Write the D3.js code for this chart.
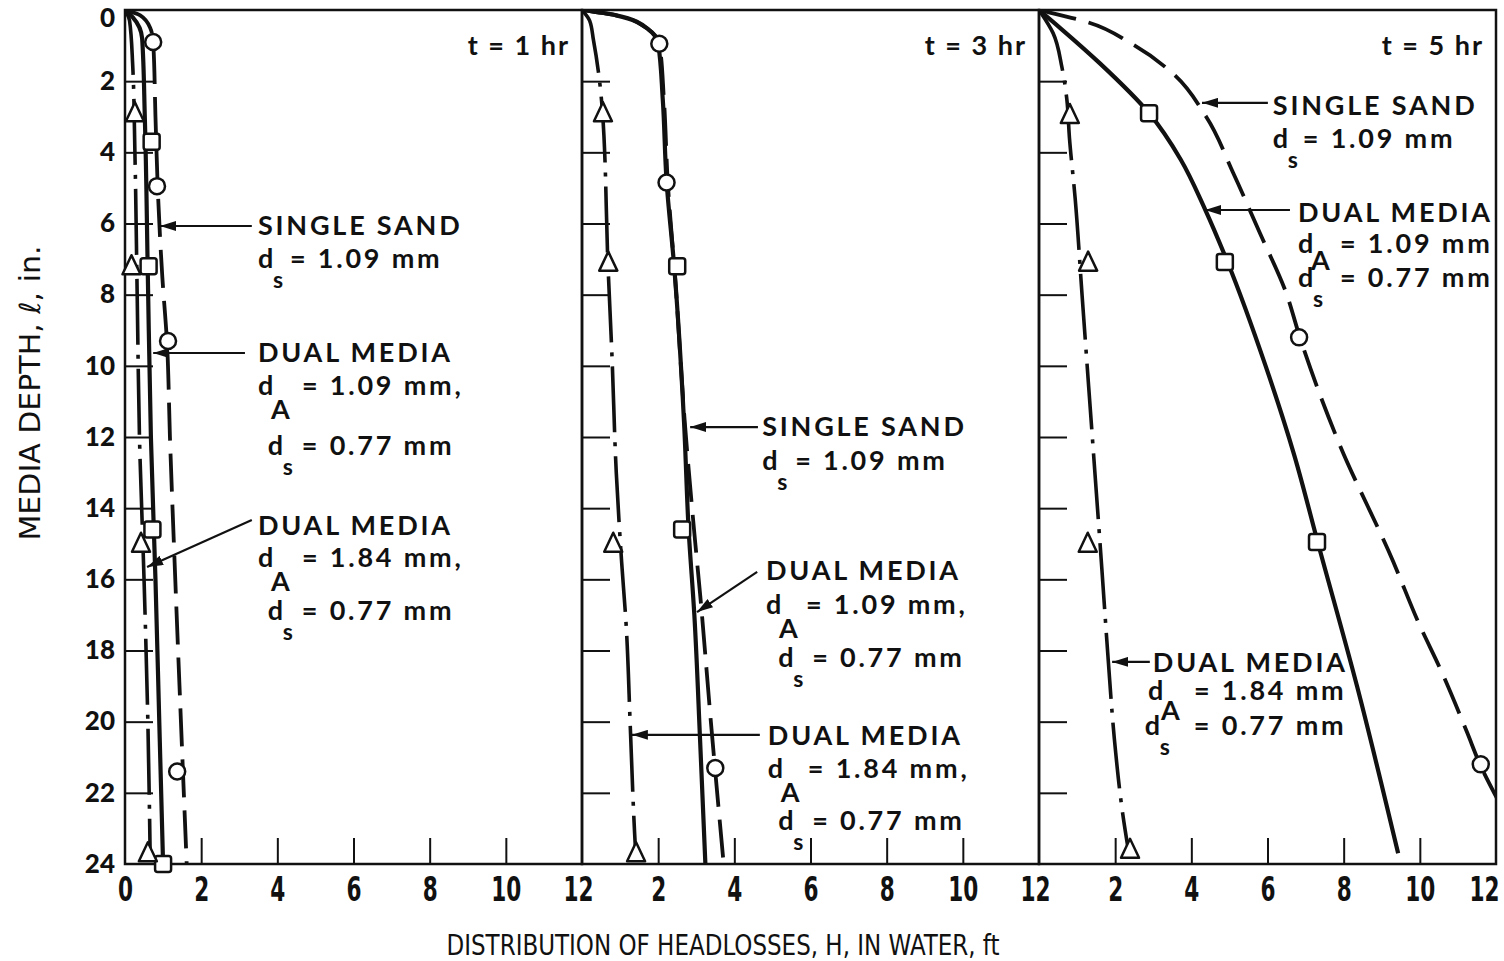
<!DOCTYPE html>
<html>
<head>
<meta charset="utf-8">
<script src="https://cdn.jsdelivr.net/npm/d3@7"></script>
<style>
  html, body { margin: 0; padding: 0; background: #fff; }
  svg { display: block; }
  .note { font-family: Lato, "DejaVu Sans", sans-serif; font-weight: 700; font-size: 27px; letter-spacing: 2.8px; fill: #111; }
  .ytick { font-family: Lato, "DejaVu Sans", sans-serif; font-weight: 900; font-size: 26px; fill: #111; }
  .xtick { font-family: "Liberation Sans Narrow", "DejaVu Sans Condensed", sans-serif; font-weight: 700; font-size: 30px; fill: #111; }
  .title { font-family: "Liberation Sans Narrow", "DejaVu Sans Condensed", sans-serif; font-size: 29px; fill: #111; }
</style>
</head>
<body>
<script>
// Headloss distribution through filter media depth at three filtration times.
// Each series is a list of [depth (in.), headloss H (ft)] pairs.

const panelTimes = ["t = 1 hr", "t = 3 hr", "t = 5 hr"];
const depthTicks = [0, 2, 4, 6, 8, 10, 12, 14, 16, 18, 20, 22, 24];
const headTicks = [0, 2, 4, 6, 8, 10, 12];

// Single sand, ds = 1.09 mm (dashed, circles)
const sandCurve1 = [[0,0],[0.15,0.4],[0.5,0.66],[0.9,0.74],[3,0.8],[5,0.86],[7.5,0.98],[9.3,1.1],[12,1.18],[16,1.32],[19.5,1.45],[24,1.62]];
const sandCurve3 = [[0,0],[0.15,0.9],[0.55,1.75],[0.95,2.03],[2.5,2.15],[4.8,2.25],[7.6,2.45],[11.6,2.7],[14.7,2.95],[16.4,3.1],[20.2,3.4],[24,3.72]];
const sandCurve5 = [[0,0],[0.06,0.24],[0.34,1.27],[0.93,2.4],[1.77,3.5],[3.0,4.39],[4.58,5.1],[6.27,5.8],[7.95,6.49],[9.2,6.85],[12.1,7.85],[15.5,9.3],[17.3,10.0],[18.5,10.53],[20.3,11.24],[21.2,11.58],[22.2,12.05]];
const sandPoints1 = [[0.9,0.74],[4.95,0.84],[9.3,1.13],[21.4,1.37]];
const sandPoints3 = [[0.95,2.03],[4.85,2.22],[21.3,3.5]];
const sandPoints5 = [[9.2,6.83],[21.2,11.6]];

// Dual media, dA = 1.09 mm, ds = 0.77 mm (solid, squares)
const dualACurve1 = [[0,0],[0.2,0.2],[0.8,0.45],[3,0.52],[7.5,0.6],[12,0.68],[16,0.8],[20,0.9],[24,1.0]];
const dualACurve3 = [[0,0],[0.15,0.9],[0.55,1.75],[0.95,2.0],[2.5,2.12],[4.8,2.22],[7.2,2.42],[11.6,2.68],[14.6,2.8],[17,2.95],[20.5,3.1],[24,3.24]];
const dualACurve5 = [[0,0],[0.5,0.55],[1.5,1.6],[2.9,2.89],[4.2,3.72],[5.6,4.36],[7.08,4.95],[10,5.95],[12.5,6.7],[15,7.33],[19,8.35],[23.7,9.43]];
const dualAPoints1 = [[3.7,0.7],[7.2,0.62],[14.6,0.72],[24,1.0]];
const dualAPoints3 = [[7.2,2.5],[14.6,2.63]];
const dualAPoints5 = [[2.9,2.89],[7.08,4.88],[14.95,7.3]];

// Dual media, dA = 1.84 mm, ds = 0.77 mm (dash-dot, triangles)
const dualBCurve1 = [[0,0],[0.3,0.12],[1.5,0.2],[4,0.26],[8,0.32],[12,0.38],[16,0.5],[20,0.6],[23.7,0.66]];
const dualBCurve3 = [[0,0],[0.3,0.2],[0.84,0.3],[2.9,0.54],[7.1,0.68],[9.8,0.79],[13,0.9],[15.5,1.04],[17.3,1.16],[20.2,1.27],[23.1,1.38],[23.7,1.41]];
const dualBCurve5 = [[0,0],[0.65,0.37],[1.6,0.6],[2.5,0.73],[3.6,0.8],[5.3,0.95],[8,1.13],[12,1.4],[15.7,1.65],[18.3,1.82],[20.5,1.98],[22.6,2.2],[23.7,2.36]];
const dualBPoints1 = [[2.9,0.26],[7.2,0.17],[15,0.42],[23.7,0.6]];
const dualBPoints3 = [[2.9,0.55],[7.1,0.69],[15,0.82],[23.7,1.42]];
const dualBPoints5 = [[2.95,0.81],[7.1,1.29],[15,1.28],[23.6,2.39]];

const sandCurves = [sandCurve1, sandCurve3, sandCurve5];
const sandPoints = [sandPoints1, sandPoints3, sandPoints5];
const dualACurves = [dualACurve1, dualACurve3, dualACurve5];
const dualAPoints = [dualAPoints1, dualAPoints3, dualAPoints5];
const dualBCurves = [dualBCurve1, dualBCurve3, dualBCurve5];
const dualBPoints = [dualBPoints1, dualBPoints3, dualBPoints5];

// Callout notes, anchored in each panel's (H, depth) coordinates
const notes = [
  [
    { head: "SINGLE SAND", at: [3.49, 6.32], arrow: [[3.33, 6.07], [0.92, 6.07]],
      rows: [{ at: [3.49, 7.25], sub: "s", rest: "= 1.09 mm", dx: 32 }] },
    { head: "DUAL MEDIA", at: [3.49, 9.89], arrow: [[3.15, 9.64], [0.74, 9.64]],
      rows: [{ at: [3.49, 10.82], sub: "A", rest: "= 1.09 mm,", dx: 44 },
             { at: [3.75, 12.5], sub: "s", rest: "= 0.77 mm", dx: 34 }] },
    { head: "DUAL MEDIA", at: [3.49, 14.75], arrow: [[3.33, 14.33], [0.58, 15.65]],
      rows: [{ at: [3.49, 15.65], sub: "A", rest: "= 1.84 mm,", dx: 44 },
             { at: [3.75, 17.14], sub: "s", rest: "= 0.77 mm", dx: 34 }] }
  ],
  [
    { head: "SINGLE SAND", at: [4.73, 11.97], arrow: [[4.62, 11.72], [2.84, 11.72]],
      rows: [{ at: [4.73, 12.93], sub: "s", rest: "= 1.09 mm", dx: 33 }] },
    { head: "DUAL MEDIA", at: [4.83, 16.02], arrow: [[4.6, 15.79], [3.02, 16.92]],
      rows: [{ at: [4.83, 16.97], sub: "A", rest: "= 1.09 mm,", dx: 40 },
             { at: [5.15, 18.46], sub: "s", rest: "= 0.77 mm", dx: 34 }] },
    { head: "DUAL MEDIA", at: [4.88, 20.66], arrow: [[4.67, 20.37], [1.31, 20.37]],
      rows: [{ at: [4.88, 21.58], sub: "A", rest: "= 1.84 mm,", dx: 40 },
             { at: [5.15, 23.04], sub: "s", rest: "= 0.77 mm", dx: 34 }] }
  ],
  [
    { head: "SINGLE SAND", at: [6.14, 2.95], arrow: [[6.01, 2.61], [4.28, 2.61]],
      rows: [{ at: [6.14, 3.88], sub: "s", rest: "= 1.09 mm", dx: 30 }] },
    { head: "DUAL MEDIA", at: [6.8, 5.96], arrow: [[6.59, 5.62], [4.36, 5.62]],
      rows: [{ at: [6.8, 6.83], sub: "A", rest: "= 1.09 mm", dx: 42, subDy: 17 },
             { at: [6.8, 7.78], sub: "s", rest: "= 0.77 mm", dx: 42 }] },
    { head: "DUAL MEDIA", at: [2.99, 18.6], arrow: [[2.91, 18.32], [1.92, 18.32]],
      rows: [{ at: [2.86, 19.39], sub: "A", rest: "= 1.84 mm", dx: 46, subDy: 20 },
             { at: [2.78, 20.37], sub: "s", rest: "= 0.77 mm", dx: 49 }] }
  ]
];

const chartW = 1504, chartH = 961;
const plotLeft = 125, panelW = 457, plotTop = 10, plotBottom = 864;

const svg = d3.select("body").append("svg")
  .attr("width", chartW).attr("height", chartH);

const defs = svg.append("defs");
defs.append("marker")
  .attr("id", "arrowHead")
  .attr("viewBox", "0 0 16 10")
  .attr("refX", 16).attr("refY", 5)
  .attr("markerWidth", 16).attr("markerHeight", 10)
  .attr("markerUnits", "userSpaceOnUse")
  .attr("orient", "auto")
  .append("path").attr("d", "M0,0L16,5L0,10Z").attr("fill", "#111");

const y = d3.scaleLinear().domain([0, 24]).range([plotTop, plotBottom]);

panelTimes.forEach((label, i) => {
  const x = d3.scaleLinear().domain([0, 12]).range([plotLeft + i * panelW, plotLeft + (i + 1) * panelW]);
  const g = svg.append("g");

  defs.append("clipPath").attr("id", "clip" + i)
    .append("rect")
    .attr("x", x(0)).attr("y", y(0))
    .attr("width", x(12) - x(0)).attr("height", y(24) - y(0));

  // inner depth ticks on the left edge of the panel
  const leftTicks = g.append("g")
    .attr("transform", `translate(${x(0)},0)`)
    .call(d3.axisRight(y).tickValues(depthTicks.filter(d => d > 0 && d < 24)).tickSize(28).tickFormat(""));
  leftTicks.select(".domain").remove();
  leftTicks.selectAll("line").attr("stroke", "#111").attr("stroke-width", 2);

  // inner headloss ticks on the bottom edge
  const botTicks = g.append("g")
    .attr("transform", `translate(0,${y(24)})`)
    .call(d3.axisTop(x).tickValues(headTicks.filter(h => h > 0 && h < 12)).tickSize(26).tickFormat(""));
  botTicks.select(".domain").remove();
  botTicks.selectAll("line").attr("stroke", "#111").attr("stroke-width", 2);

  // bottom tick labels
  const labelVals = i === 0 ? headTicks : headTicks.filter(h => h > 0);
  const botLabels = g.append("g")
    .attr("transform", `translate(0,${y(24)})`)
    .call(d3.axisBottom(x).tickValues(labelVals).tickSize(0).tickPadding(12).tickFormat(d3.format("d")));
  botLabels.select(".domain").remove();
  botLabels.selectAll("text").attr("class", "xtick").attr("fill", null)
    .attr("transform", d => `translate(${d === 12 ? (i === 2 ? -12 : -4) : 0},0) scale(0.8,1.1)`);

  // frame
  g.append("rect")
    .attr("x", x(0)).attr("y", y(0))
    .attr("width", x(12) - x(0)).attr("height", y(24) - y(0))
    .attr("fill", "none").attr("stroke", "#111").attr("stroke-width", 2.5);

  // panel time label
  g.append("text").attr("class", "note")
    .attr("x", x(12) - 12).attr("y", 55)
    .attr("text-anchor", "end").style("letter-spacing", "2px")
    .text(label);

  const line = d3.line()
    .x(d => x(d[1])).y(d => y(d[0]))
    .curve(d3.curveMonotoneY);

  const curves = g.append("g").attr("clip-path", `url(#clip${i})`);
  curves.append("path").datum(dualBCurves[i])
    .attr("d", line).attr("fill", "none").attr("stroke", "#111")
    .attr("stroke-width", 3.6).attr("stroke-dasharray", "66,10,4,10");
  curves.append("path").datum(dualACurves[i])
    .attr("d", line).attr("fill", "none").attr("stroke", "#111")
    .attr("stroke-width", 4.2);
  curves.append("path").datum(sandCurves[i])
    .attr("d", line).attr("fill", "none").attr("stroke", "#111")
    .attr("stroke-width", 3.8).attr("stroke-dasharray", "38,13");

  // point markers
  const pts = g.append("g").attr("fill", "#fff").attr("stroke", "#111").attr("stroke-width", 2.5);
  pts.selectAll("circle").data(sandPoints[i]).join("circle")
    .attr("cx", d => x(d[1])).attr("cy", d => y(d[0])).attr("r", 8);
  pts.selectAll("rect").data(dualAPoints[i]).join("rect")
    .attr("x", d => x(d[1]) - 8).attr("y", d => y(d[0]) - 8)
    .attr("width", 16).attr("height", 16).attr("rx", 2.5);
  pts.selectAll("path").data(dualBPoints[i]).join("path")
    .attr("d", d => {
      const cx = x(d[1]), cy = y(d[0]);
      return `M${cx},${cy - 11}L${cx + 9},${cy + 8}L${cx - 9},${cy + 8}Z`;
    })
    .attr("stroke-linejoin", "round");

  // callouts: heading, arrow, and d-with-subscript rows
  notes[i].forEach(n => {
    g.append("line")
      .attr("x1", x(n.arrow[0][0])).attr("y1", y(n.arrow[0][1]))
      .attr("x2", x(n.arrow[1][0])).attr("y2", y(n.arrow[1][1]))
      .attr("stroke", "#111").attr("stroke-width", 2.2)
      .attr("marker-end", "url(#arrowHead)");
    g.append("text").attr("class", "note")
      .attr("x", x(n.at[0])).attr("y", y(n.at[1]))
      .text(n.head);
    n.rows.forEach(r => {
      const X = x(r.at[0]), Y = y(r.at[1]);
      const isA = r.sub === "A";
      const drop = r.subDy !== undefined ? r.subDy : (isA ? 24 : 20);
      const t = g.append("text").attr("class", "note").attr("x", X).attr("y", Y);
      t.append("tspan").text("d");
      t.append("tspan")
        .attr("x", X + (isA ? 13 : 15)).attr("dy", drop)
        .style("font-size", isA ? "27px" : "23px").style("letter-spacing", "0px")
        .text(r.sub);
      t.append("tspan")
        .attr("x", X + r.dx).attr("dy", -drop)
        .text(r.rest);
    });
  });
});

// depth labels on the left
const yLabels = svg.append("g")
  .attr("transform", `translate(${plotLeft},0)`)
  .call(d3.axisLeft(y).tickValues(depthTicks).tickSize(0).tickPadding(10).tickFormat(d3.format("d")));
yLabels.select(".domain").remove();
yLabels.selectAll("text").attr("class", "ytick").attr("fill", null)
  .attr("transform", d => (d === 0 ? "translate(0,8)" : null));

// axis titles
svg.append("text").attr("class", "title")
  .attr("text-anchor", "middle")
  .attr("transform", "translate(40,393) rotate(-90)")
  .attr("textLength", 295).attr("lengthAdjust", "spacingAndGlyphs")
  .text("MEDIA DEPTH, \u2113, in.");

svg.append("text").attr("class", "title")
  .attr("x", 723).attr("y", 955)
  .attr("text-anchor", "middle")
  .attr("textLength", 553).attr("lengthAdjust", "spacingAndGlyphs")
  .text("DISTRIBUTION OF HEADLOSSES, H, IN WATER, ft");
</script>
</body>
</html>
